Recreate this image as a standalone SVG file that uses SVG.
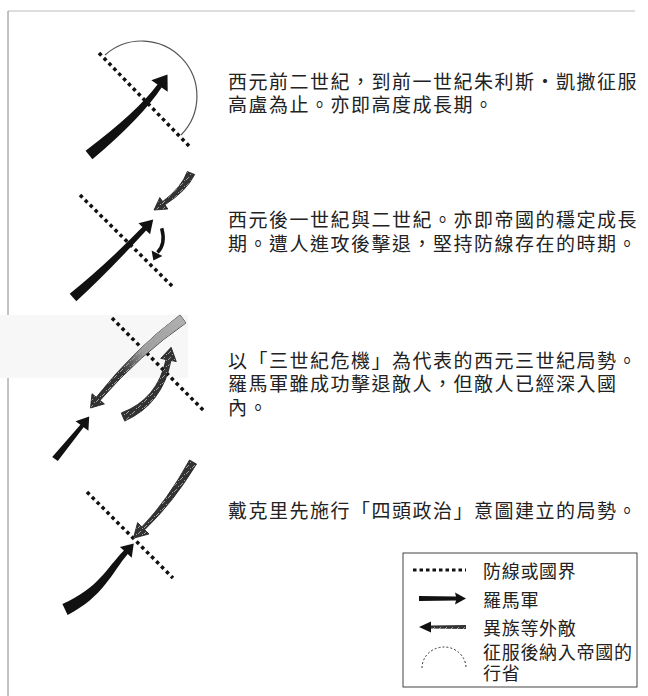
<svg xmlns="http://www.w3.org/2000/svg" width="648" height="696" viewBox="0 0 648 696">
<style>
.txt{font-family:"Liberation Sans","Noto Sans CJK TC","Noto Sans CJK SC",sans-serif;font-size:19px;letter-spacing:1.5px;fill:#222}
.lg{font-family:"Liberation Sans","Noto Sans CJK TC","Noto Sans CJK SC",sans-serif;font-size:18px;letter-spacing:0.7px;fill:#222}
.dot{stroke:#111;stroke-width:3.5;stroke-dasharray:3.5 3.5;fill:none}
.rome{fill:#111}
.barb{fill:url(#hatch);stroke:#1a1a1a;stroke-width:0.8}
</style>
<defs>
<pattern id="hatch" width="6" height="6" patternUnits="userSpaceOnUse">
<rect width="6" height="6" fill="#333"/>
<path d="M0,6 L3,3 M4,1 L5,0" stroke="#bbb" stroke-width="0.8"/>
</pattern>
<linearGradient id="fade" gradientUnits="userSpaceOnUse" x1="183" y1="319" x2="100" y2="400">
<stop offset="0" stop-color="#b0b0b0" stop-opacity="1"/>
<stop offset="0.45" stop-color="#a8a8a8" stop-opacity="0.9"/>
<stop offset="0.7" stop-color="#999" stop-opacity="0"/>
</linearGradient>
</defs>
<rect width="648" height="696" fill="#fff"/>
<g id="frame" fill="none">
<path d="M8,11 L635,11" stroke="#bbb" stroke-width="1"/>
<path d="M8,11 L8,696" stroke="#888" stroke-width="1"/>
<rect x="0" y="315" width="188" height="63" fill="#f7f7f7"/>
</g>
<g id="panel1">
<path d="M105,55 A55.2,55.2 0 0 1 181,135" fill="none" stroke="#555" stroke-width="1.2"/>
<line class="dot" x1="99" y1="53" x2="189" y2="146"/>
<path class="rome" d="M92.4,159.3 Q142.1,117.1 161.6,87.4 L167.7,91.7 L167.5,74.5 L151.3,80.3 L157.5,84.6 Q136.9,112.3 85.6,150.7 Z"/>
</g>
<g id="panel2">
<line class="dot" x1="80" y1="195" x2="173" y2="287"/>
<path class="rome" d="M76.3,301.3 Q108.9,271.2 146.1,230.5 L150.1,234.3 L153.2,219.4 L138.5,223.3 L142.5,227.1 Q104.1,266.2 69.7,293.7 Z"/>
<path class="barb" d="M187.3,171.5 Q182,187.1 162.7,201.6 L159.8,197.5 L154,210 L167.8,209 L164.9,204.8 Q186.6,190.9 194.7,174.5 Z"/>
<path d="M161.7,228.3 Q166,244 157.5,252.5" fill="none" stroke="#111" stroke-width="3.5"/>
<path class="rome" d="M162.4,256 L153.4,260.5 L151.6,250.6 Z"/>
</g>
<g id="panel3">
<line class="dot" x1="112" y1="318" x2="205" y2="412"/>
<path class="barb" d="M180.1,315 Q134.7,348.8 96.3,397.2 L92,393.7 L90.5,408 L104.4,403.9 L100.1,400.4 Q140.1,354.6 185.9,323 Z"/>
<path d="M180.1,315 Q134.7,348.8 96.3,397.2 L100.1,400.4 Q140.1,354.6 185.9,323 Z" fill="url(#fade)"/>
<path class="barb" d="M124.7,421.1 Q162.7,403.9 171,360.5 L176.3,361.6 L171.1,347.3 L160.7,358.4 L166,359.5 Q157.3,399.5 121.3,412.9 Z"/>
<path class="rome" d="M57.8,461.1 L83.6,427.2 L88.4,430.8 L89.2,416.4 L75.6,421.2 L80.4,424.8 L52.2,456.9 Z"/>
</g>
<g id="panel4">
<line class="dot" x1="87" y1="492" x2="173" y2="578"/>
<path class="barb" d="M189.5,460 Q168.2,499.2 141.9,526.9 L137.6,522.6 L133.4,538.2 L149,534 L144.7,529.7 Q173,502.8 196.5,464 Z"/>
<path class="rome" d="M67.6,614.9 C103.2,596.8 111.6,573.1 127.7,554 L131.7,557.7 L133.8,543.4 L119.9,546.9 L123.9,550.6 C106.4,568.5 98.9,587.8 62.4,604.1 Z"/>
</g>
<g id="text1">
<text class="txt" x="228" y="89">西元前二世紀，到前一世紀朱利斯・凱撒征服<tspan x="228" dy="23">高盧為止。亦即高度成長期。</tspan></text>
</g>
<g id="text2">
<text class="txt" x="228" y="227">西元後一世紀與二世紀。亦即帝國的穩定成長<tspan x="228" dy="24">期。遭人進攻後擊退，堅持防線存在的時期。</tspan></text>
</g>
<g id="text3">
<text class="txt" x="228" y="368">以「三世紀危機」為代表的西元三世紀局勢。<tspan x="228" dy="23">羅馬軍雖成功擊退敵人，但敵人已經深入國</tspan><tspan x="228" dy="24">內。</tspan></text>
</g>
<g id="text4">
<text class="txt" x="228" y="518">戴克里先施行「四頭政治」意圖建立的局勢。</text>
</g>
<g id="legend">
<rect x="403" y="553" width="234" height="134" fill="#fff" stroke="#444" stroke-width="1"/>
<line x1="413" y1="570" x2="466" y2="570" stroke="#111" stroke-width="2.8" stroke-dasharray="3.5 3"/>
<path class="rome" d="M419,596 L456,596.5 L455,592.5 L466,598.5 L455,604.5 L456,600.5 L419,601 Z"/>
<path d="M466,625 L430,625.5 L430,628.5 L466,629 Z" fill="url(#hatch)"/>
<path class="rome" d="M431,621.5 L419,627 L431,632.5 Z"/>
<path d="M422,668 A22,21 0 0 1 466,668" fill="none" stroke="#333" stroke-width="1" stroke-dasharray="2 2"/>
<text class="lg" x="483" y="578">防線或國界</text>
<text class="lg" x="483" y="607">羅馬軍</text>
<text class="lg" x="483" y="635">異族等外敵</text>
<text class="lg" x="483" y="659">征服後納入帝國的<tspan x="483" dy="21">行省</tspan></text>
</g>
</svg>
